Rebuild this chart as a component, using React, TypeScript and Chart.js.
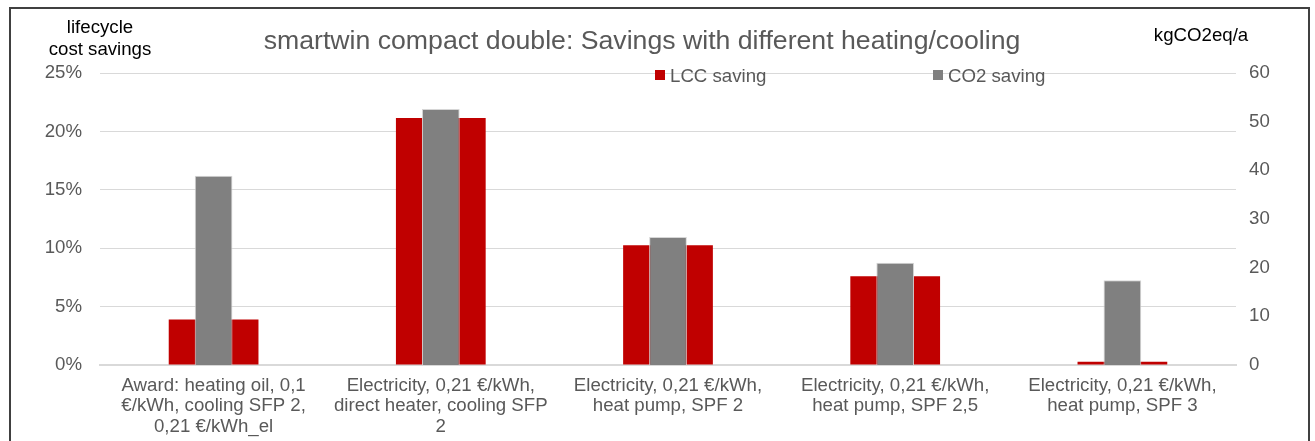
import React, { useEffect, useRef } from "react";
import { Chart, registerables } from "chart.js";

Chart.register(...registerables);

const categories: string[][] = [
  ["Award: heating oil, 0,1", "€/kWh, cooling SFP 2,", "0,21 €/kWh_el"],
  ["Electricity, 0,21 €/kWh,", "direct heater, cooling SFP", "2"],
  ["Electricity, 0,21 €/kWh,", "heat pump, SPF 2"],
  ["Electricity, 0,21 €/kWh,", "heat pump, SPF 2,5"],
  ["Electricity, 0,21 €/kWh,", "heat pump, SPF 3"],
];

const lccSaving = [3.9, 21.15, 10.25, 7.6, 0.28];
const co2Saving = [38.9, 52.6, 26.3, 21.0, 17.4];

const leftTicks = [0, 5, 10, 15, 20, 25];
const rightTicks = [0, 10, 20, 30, 40, 50, 60];

const seriesNames = ["LCC saving", "CO2 saving"];
const titleText = "smartwin compact double: Savings with different heating/cooling";
const leftAxisTitle = ["lifecycle", "cost savings"];
const rightAxisTitle = "kgCO2eq/a";

const FONT = "'Liberation Sans', Arial, sans-serif";
const RED = "#C00000";
const GRAY = "#808080";
const TEXT = "#595959";

const decorPlugin = {
  id: "decor",
  afterDraw(chart: any) {
    const ctx = chart.ctx as CanvasRenderingContext2D;
    ctx.save();
    // Title
    ctx.fillStyle = TEXT;
    ctx.font = `26.67px ${FONT}`;
    ctx.textAlign = "center";
    ctx.textBaseline = "alphabetic";
    ctx.fillText(titleText, 642, 49);
    // Axis titles
    ctx.fillStyle = "#000000";
    ctx.font = `18.67px ${FONT}`;
    ctx.fillText(leftAxisTitle[0], 100, 33);
    ctx.fillText(leftAxisTitle[1], 100, 55);
    ctx.fillText(rightAxisTitle, 1201, 41);
    // Legend
    ctx.textAlign = "left";
    ctx.fillStyle = RED;
    ctx.fillRect(655, 70, 10, 10);
    ctx.fillStyle = GRAY;
    ctx.fillRect(933, 70, 10, 10);
    ctx.fillStyle = TEXT;
    ctx.fillText(seriesNames[0], 670, 82);
    ctx.fillText(seriesNames[1], 948, 82);
    // Outer border
    ctx.strokeStyle = "#404040";
    ctx.lineWidth = 2;
    ctx.strokeRect(10, 8, 1299, 480);
    ctx.restore();
  },
};

export default function App() {
  const ref = useRef<HTMLCanvasElement | null>(null);

  useEffect(() => {
    if (!ref.current) return;
    const chart = new Chart(ref.current, {
      type: "bar",
      data: {
        labels: categories,
        datasets: [
          {
            label: seriesNames[0],
            data: lccSaving,
            backgroundColor: RED,
            yAxisID: "y",
            grouped: false,
            order: 2,
            categoryPercentage: 1,
            barPercentage: 0.395,
          } as any,
          {
            label: seriesNames[1],
            data: co2Saving,
            backgroundColor: GRAY,
            borderColor: "#d6d6d6",
            borderWidth: 1,
            yAxisID: "y1",
            grouped: false,
            order: 1,
            categoryPercentage: 1,
            barPercentage: 0.166,
          } as any,
        ],
      },
      options: {
        responsive: false,
        animation: false,
        layout: { padding: { top: 73, left: 0, right: 0, bottom: 0 } },
        plugins: {
          legend: { display: false },
          title: { display: false },
          tooltip: { enabled: false },
        },
        scales: {
          x: {
            offset: true,
            grid: { display: false, drawTicks: false },
            border: { display: true, color: "#d9d9d9", width: 2 },
            ticks: {
              color: TEXT,
              font: { family: FONT, size: 18.67, lineHeight: 1.08 },
              padding: 11,
              maxRotation: 0,
              minRotation: 0,
              autoSkip: false,
            },
            afterFit: (s: any) => {
              s.height = 76;
            },
          },
          y: {
            position: "left",
            min: leftTicks[0],
            max: leftTicks[leftTicks.length - 1],
            grid: { color: "#d9d9d9", lineWidth: 1, drawTicks: false },
            border: { display: false },
            ticks: {
              stepSize: leftTicks[1] - leftTicks[0],
              color: TEXT,
              font: { family: FONT, size: 18.67 },
              padding: 18,
              callback: (v: any) => `${v}%`,
            },
            afterFit: (s: any) => {
              s.width = 100;
            },
          },
          y1: {
            position: "right",
            min: rightTicks[0],
            max: rightTicks[rightTicks.length - 1],
            grid: { display: false, drawTicks: false },
            border: { display: false },
            ticks: {
              stepSize: rightTicks[1] - rightTicks[0],
              color: TEXT,
              font: { family: FONT, size: 18.67 },
              padding: 13,
            },
            afterFit: (s: any) => {
              s.width = 79;
            },
          },
        },
      },
      plugins: [decorPlugin],
    } as any);
    return () => chart.destroy();
  }, []);

  return (
    <div style={{ position: "fixed", left: 0, top: 0, width: 1315, height: 441, background: "#fff" }}>
      <canvas ref={ref} width={1315} height={441} style={{ display: "block" }} />
    </div>
  );
}
